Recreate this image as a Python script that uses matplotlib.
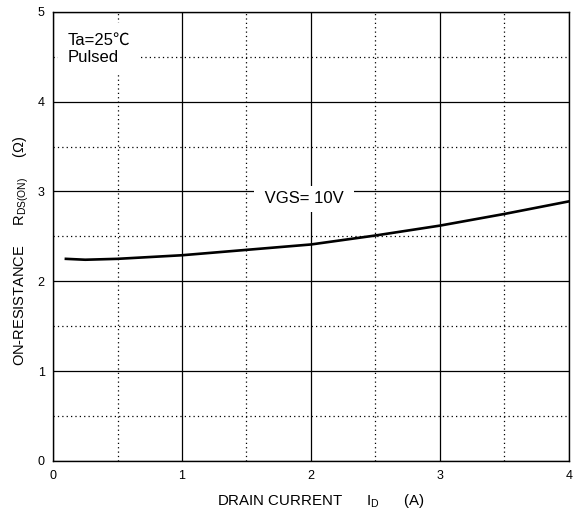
import matplotlib
matplotlib.use('Agg')
import matplotlib.pyplot as plt
import numpy as np

plt.rcParams['font.family'] = ['Liberation Sans', 'Noto Sans CJK SC', 'DejaVu Sans']
plt.rcParams['mathtext.fontset'] = 'custom'
plt.rcParams['mathtext.rm'] = 'Liberation Sans'

# curve
drain_current = [0.1, 0.25, 0.5, 0.75, 1.0, 1.5, 2.0, 2.5, 3.0, 3.5, 4.0]
on_resistance = [2.25, 2.24, 2.25, 2.27, 2.29, 2.35, 2.41, 2.51, 2.62, 2.75, 2.89]

x_ticks = [0, 1, 2, 3, 4]
y_ticks = [0, 1, 2, 3, 4, 5]

fig = plt.figure(figsize=(5.73, 5.15), dpi=100)
ax = fig.add_axes([0.0925, 0.105, 0.9005, 0.872])

ax.plot(drain_current, on_resistance, color='black', lw=1.9, zorder=3)

ax.set_xlim(0, 4)
ax.set_ylim(0, 5)
ax.set_xticks(x_ticks)
ax.set_yticks(y_ticks)
ax.set_xticks(np.arange(0.5, 4, 1), minor=True)
ax.set_yticks(np.arange(0.5, 5, 1), minor=True)
ax.grid(which='major', color='black', lw=0.9, ls='-')
ax.grid(which='minor', color='black', lw=0.9, ls=(0, (1, 2.5)))
ax.tick_params(which='both', length=0, labelsize=9)
ax.tick_params(axis='x', pad=6.5)
ax.tick_params(axis='y', pad=6)
for s in ax.spines.values():
    s.set_linewidth(1.0)

ax.set_xlabel(r'DRAIN CURRENT      I$_{\mathregular{D}}$      (A)', fontsize=10.8)
ax.set_ylabel(r'ON-RESISTANCE     R$_{\mathregular{DS(ON)}}$     (Ω)', fontsize=10.5)
ax.xaxis.set_label_coords(0.519, -0.07)
ax.yaxis.set_label_coords(-0.043, 0.468)

ax.text(0.11, 4.59, 'Ta=25℃\nPulsed', fontsize=12, va='center', ha='left',
        linespacing=1.15, bbox=dict(facecolor='white', edgecolor='none', pad=7),
        zorder=4)
ax.text(1.946, 2.92, ' VGS= 10V ', fontsize=12, va='center', ha='center',
        bbox=dict(facecolor='white', edgecolor='none', pad=4), zorder=4)

fig.savefig('out.png', dpi=100)
